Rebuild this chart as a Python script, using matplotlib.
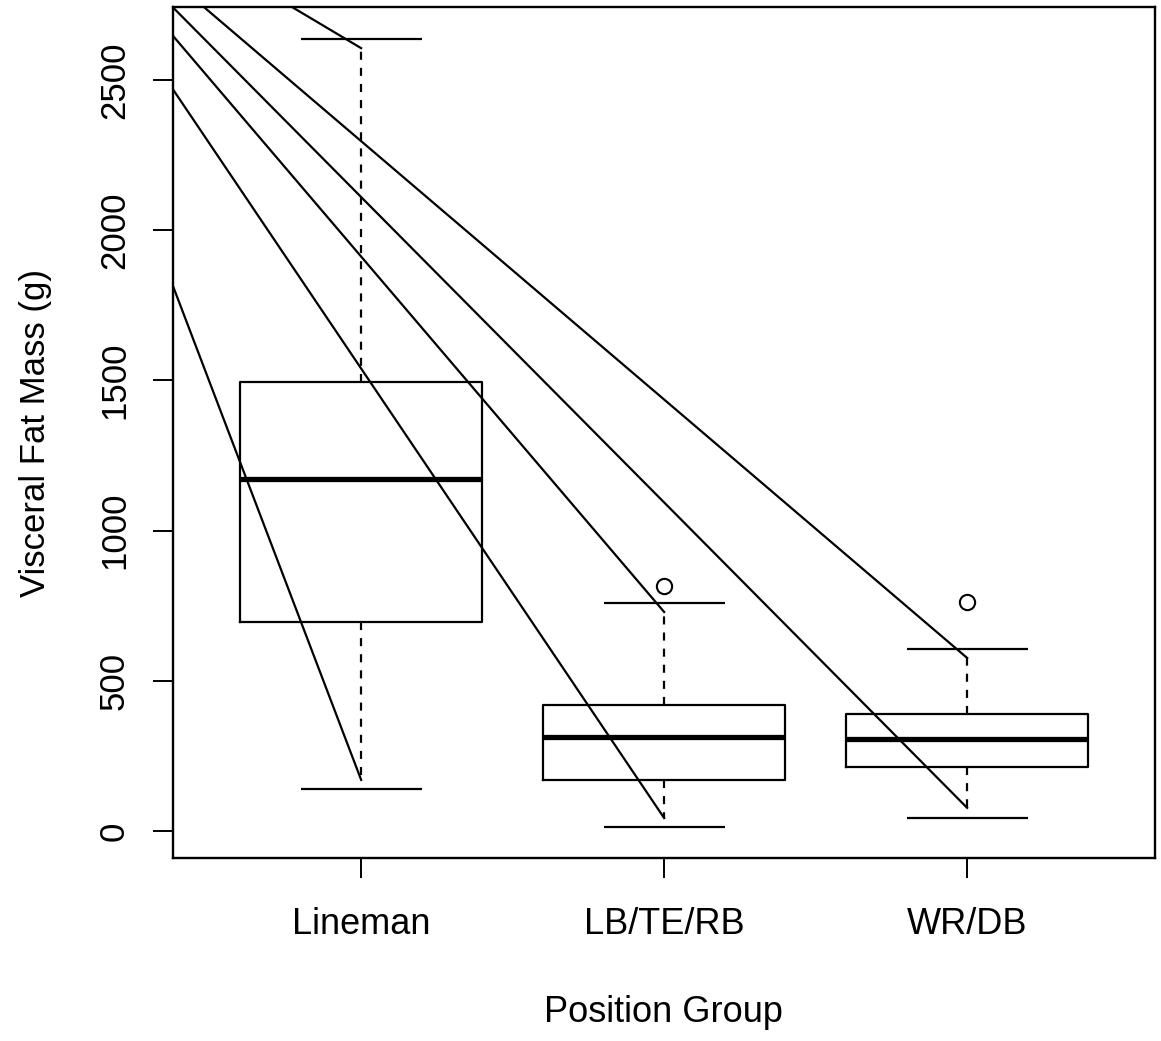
import matplotlib
matplotlib.use("Agg")
import matplotlib.pyplot as plt

plt.rcParams['font.family'] = ['Liberation Sans', 'DejaVu Sans']
plt.rcParams['lines.scale_dashes'] = False

# ---- data ----
groups = ["Lineman", "LB/TE/RB", "WR/DB"]
q1 = [697, 170, 214]
medians = [1171, 314, 306]
q3 = [1494, 419, 388]
whisker_low_tip = [170, 43, 77]
whisker_high_tip = [2606, 729, 576]
cap_low = [141, 14, 43]
cap_high = [2635, 758, 606]
outliers = [[], [816], [763]]
line_origin = (-0.19, 3320)

yticks = [0, 500, 1000, 1500, 2000, 2500]

fig = plt.figure(figsize=(11.61, 10.41), dpi=100)
ax = fig.add_axes([173.3 / 1161, 1 - 858 / 1041, (1155 - 173.3) / 1161, (858 - 7.3) / 1041])

positions = [1, 2, 3]
stats = []
for i, g in enumerate(groups):
    stats.append(dict(label=g, med=medians[i], q1=q1[i], q3=q3[i],
                      whislo=whisker_low_tip[i], whishi=whisker_high_tip[i],
                      fliers=outliers[i]))

lw = 1.6
ax.bxp(stats, positions=positions, widths=0.8, showcaps=False,
       boxprops=dict(color='black', linewidth=lw),
       whiskerprops=dict(color='black', linewidth=lw, linestyle=(0, (5.8, 5.8))),
       medianprops=dict(color='black', linewidth=3.8, solid_capstyle='butt'),
       flierprops=dict(marker='o', markersize=11, markerfacecolor='none',
                       markeredgecolor='black', markeredgewidth=1.5),
       manage_ticks=False)

# staples
for i, p in enumerate(positions):
    ax.hlines([cap_low[i], cap_high[i]], p - 0.2, p + 0.2, color='black', linewidth=lw)

# diagonal lines from a common origin to each whisker tip
for i, p in enumerate(positions):
    for tip in (whisker_high_tip[i], whisker_low_tip[i]):
        ax.plot([line_origin[0], p], [line_origin[1], tip], color='black', linewidth=lw, zorder=5)

ax.set_xlim(0.38, 3.62)
ax.set_ylim(-90, 2742)
ax.set_xticks(positions)
ax.set_xticklabels(groups, fontsize=26)
ax.set_yticks(yticks)
ax.set_yticklabels([str(v) for v in yticks], rotation=90, va='center', fontsize=25)

ax.tick_params(axis='both', length=14.4, width=1.4, color='black')
ax.tick_params(axis='x', pad=21)
ax.tick_params(axis='y', pad=16)
for s in ax.spines.values():
    s.set_linewidth(1.7)

ax.set_xlabel("Position Group", fontsize=26)
ax.set_ylabel("Visceral Fat Mass (g)", fontsize=25)
ax.xaxis.set_label_coords(0.4988, (858 - 1012) / 850.7)
ax.xaxis.label.set_va('center')
ax.yaxis.set_label_coords((36 - 173.3) / 981.7, 0.5)
ax.yaxis.label.set_va('center')

fig.savefig("out.png", dpi=100)
